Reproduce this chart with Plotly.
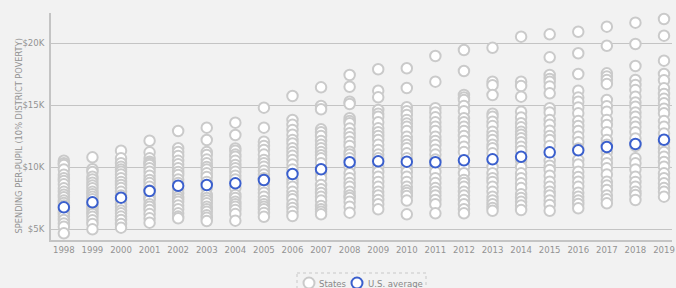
import plotly.graph_objects as go

years = list(range(1998, 2020))

us_average = [6750, 7150, 7525, 8065, 8490, 8550, 8685, 8950, 9435, 9815, 10380,
              10460, 10430, 10380, 10540, 10620, 10830, 11180, 11345, 11610, 11855, 12200]

states_1998 = [10510, 10300, 10160, 9800, 9380, 9100, 8870, 8600, 8280, 8000, 7760, 7560, 7300, 7100, 6900, 6600, 6400, 6200, 6000, 5730, 5450, 5190, 4650]
states_1999 = [10780, 9815, 9600, 9220, 9000, 8735, 8500, 8280, 8000, 7800, 7605, 7400, 7000, 6800, 6600, 6400, 6200, 5990, 5700, 5400, 4975]
states_2000 = [11315, 10700, 10300, 10025, 9800, 9620, 9400, 9090, 8800, 8550, 8300, 8000, 7700, 7300, 7000, 6800, 6500, 6265, 6000, 5730, 5400, 5105]
states_2001 = [12120, 11185, 10700, 10430, 10300, 10160, 9900, 9620, 9300, 8950, 8700, 8400, 8100, 7800, 7500, 7340, 7000, 6800, 6530, 6200, 5860, 5510]
states_2002 = [12900, 11510, 11200, 10890, 10500, 10215, 9900, 9600, 9355, 9000, 8700, 8200, 7880, 7600, 7400, 7200, 6900, 6600, 6265, 6000, 5860]
states_2003 = [13170, 12180, 11200, 10970, 10600, 10295, 10000, 9800, 9490, 9200, 8800, 8300, 7740, 7500, 7300, 7070, 6800, 6600, 6395, 6100, 5900, 5645]
states_2004 = [13575, 12580, 11500, 11315, 11000, 10830, 10500, 10160, 9900, 9620, 9300, 9000, 8300, 7740, 7500, 7200, 7000, 6800, 6530, 6200, 5670]
states_2005 = [14785, 13170, 12045, 11700, 11370, 11000, 10565, 10300, 10025, 9700, 9400, 9100, 8600, 8200, 7930, 7600, 7260, 7000, 6800, 6590, 6300, 5990]
states_2006 = [15725, 13790, 13400, 12985, 12600, 12180, 11900, 11510, 11200, 10900, 10565, 10200, 9800, 9000, 8700, 8415, 8000, 7660, 7400, 7000, 6700, 6400, 6050]
states_2007 = [16425, 14920, 14655, 13040, 12800, 12500, 12100, 11800, 11510, 11200, 10950, 10700, 10300, 9500, 9100, 8550, 8200, 7900, 7605, 7300, 6855, 6600, 6400, 6185]
states_2008 = [17420, 16475, 15265, 15080, 13930, 13700, 13525, 13100, 12720, 12400, 12045, 11700, 11235, 11000, 10700, 10000, 9500, 9090, 8700, 8400, 8010, 7700, 7500, 7200, 6800, 6315]
states_2009 = [17880, 16155, 15620, 14600, 14300, 14060, 13600, 13120, 12800, 12500, 12180, 11800, 11370, 11000, 10700, 10000, 9600, 9220, 8800, 8400, 8010, 7700, 7340, 7000, 6590]
states_2010 = [17960, 16370, 14815, 14500, 14195, 13800, 13500, 13250, 12900, 12445, 12100, 11800, 11510, 11100, 10700, 10000, 9600, 9220, 8800, 8415, 8100, 7900, 7660, 7300, 6185]
states_2011 = [18950, 16880, 14735, 14400, 14005, 13600, 13250, 12900, 12445, 12100, 11775, 11400, 11000, 10600, 10000, 9600, 9090, 8700, 8300, 8010, 7700, 7340, 7000, 6265]
states_2012 = [19435, 17740, 15805, 15600, 15400, 14920, 14500, 13930, 13600, 13250, 12900, 12500, 12100, 11640, 11200, 10000, 9500, 8950, 8700, 8415, 8000, 7700, 7340, 7000, 6600, 6265]
states_2013 = [19620, 16880, 16600, 15805, 14300, 14060, 13655, 13300, 12850, 12500, 12180, 11800, 11510, 11100, 10000, 9500, 9090, 8800, 8415, 8000, 7605, 7300, 7000, 6700, 6475]
states_2014 = [20510, 16880, 16535, 15670, 14460, 14000, 13525, 13200, 12850, 12600, 12315, 12000, 11640, 11300, 10500, 10000, 9490, 9100, 8685, 8300, 7800, 7500, 7200, 6900, 6530]
states_2015 = [20700, 18845, 17420, 17100, 16880, 16500, 15940, 14735, 14400, 13790, 13400, 12930, 12500, 12180, 11700, 10500, 10100, 9760, 9300, 8815, 8400, 8010, 7700, 7300, 6935, 6475]
states_2016 = [20910, 19170, 17500, 16155, 15600, 15265, 14800, 14330, 13700, 13305, 12900, 12445, 12000, 11500, 10565, 10200, 9620, 9200, 8815, 8400, 7930, 7600, 7300, 7015, 6670]
states_2017 = [21315, 19780, 17555, 17300, 17015, 16700, 15400, 14900, 14460, 13800, 13385, 12800, 12180, 11800, 11200, 10700, 10300, 9895, 9400, 8815, 8500, 8145, 7700, 7390, 7070]
states_2018 = [21640, 19920, 18145, 17015, 16615, 16200, 15670, 15200, 14860, 14400, 14060, 13600, 13250, 12800, 12300, 11700, 10700, 10295, 9800, 9220, 8800, 8415, 8000, 7740, 7340]
states_2019 = [21935, 20590, 18575, 17500, 17000, 16345, 15885, 15500, 15135, 14700, 14330, 13700, 13250, 12700, 12000, 11510, 11200, 10830, 10400, 10025, 9490, 9100, 8685, 8300, 8010, 7605]

state_values = [states_1998, states_1999, states_2000, states_2001, states_2002, states_2003,
                states_2004, states_2005, states_2006, states_2007, states_2008, states_2009,
                states_2010, states_2011, states_2012, states_2013, states_2014, states_2015,
                states_2016, states_2017, states_2018, states_2019]

y_tick_values = [5000, 10000, 15000, 20000]
y_tick_labels = ["$5K", "$10K", "$15K", "$20K"]
y_title = "SPENDING PER-PUPIL (10% DISTRICT POVERTY)"
legend_labels = ["States", "U.S. average"]

sx, sy = [], []
for yr, vals in zip(years, state_values):
    for v in vals:
        sx.append(yr)
        sy.append(v)

FONT = "DejaVu Sans Condensed, Roboto, sans-serif"
GRID = "#c4c4c4"
TXT = "#939393"
GRAY_MK = "#cacaca"
BLUE_MK = "#3a5fcd"
BG = "#f2f2f2"

fig = go.Figure()
fig.add_trace(go.Scatter(
    x=sx, y=sy, mode="markers", name=legend_labels[0],
    marker=dict(size=10.5, color="white", line=dict(color=GRAY_MK, width=2)),
    hoverinfo="skip", cliponaxis=False, showlegend=False))
fig.add_trace(go.Scatter(
    x=years, y=us_average, mode="markers", name=legend_labels[1],
    marker=dict(size=10.5, color="white", line=dict(color=BLUE_MK, width=2)),
    cliponaxis=False, showlegend=False))

PW, PH, ML, MB = 621, 227, 51, 48
def px_x(p):
    return (p - ML) / PW
def px_y(p):
    return (288 - MB - p) / PH

leg_y = px_y(283)
annotations = [
    dict(text=y_title, textangle=-90, xref="paper", yref="paper",
         x=px_x(18), y=px_y(136.5), xanchor="center", yanchor="middle",
         showarrow=False, font=dict(family=FONT, size=9.2, color=TXT)),
    dict(text=legend_labels[0], xref="paper", yref="paper", x=px_x(317), y=leg_y,
         xanchor="left", yanchor="middle", showarrow=False,
         font=dict(family=FONT, size=9.5, color="#888888")),
    dict(text=legend_labels[1], xref="paper", yref="paper", x=px_x(366), y=leg_y,
         xanchor="left", yanchor="middle", showarrow=False,
         font=dict(family=FONT, size=9.5, color="#888888")),
]

shapes = [
    dict(type="rect", xref="paper", yref="paper",
         x0=px_x(297), x1=px_x(426), y0=px_y(273), y1=px_y(296),
         line=dict(color="#c8c8c8", width=1, dash="dot"),
         fillcolor="rgba(0,0,0,0)", layer="below"),
]
for cx, col in [(309, GRAY_MK), (357, BLUE_MK)]:
    shapes.append(dict(type="circle", xref="paper", yref="paper",
                       xsizemode="pixel", ysizemode="pixel",
                       xanchor=px_x(cx), yanchor=leg_y,
                       x0=-5.5, x1=5.5, y0=-5.5, y1=5.5,
                       line=dict(color=col, width=2), fillcolor="white"))

fig.update_layout(
    width=676, height=288,
    margin=dict(l=ML, r=4, t=13, b=MB, autoexpand=False),
    paper_bgcolor=BG, plot_bgcolor=BG,
    font=dict(family=FONT, size=9.5, color=TXT),
    showlegend=False,
    xaxis=dict(range=[1997.55, 2019.28], tickmode="array", tickvals=years,
               ticktext=[str(y) for y in years], showgrid=False, zeroline=False,
               showline=True, linecolor=GRID, linewidth=1.5, ticks="",
               automargin=False,
               tickfont=dict(family=FONT, size=9.5, color=TXT)),
    yaxis=dict(range=[4113, 22419], tickmode="array", tickvals=y_tick_values,
               ticktext=y_tick_labels, showgrid=True, gridcolor=GRID, gridwidth=1,
               zeroline=False, showline=True, linecolor=GRID, linewidth=1.5,
               ticks="", ticklabelstandoff=3, automargin=False,
               tickfont=dict(family=FONT, size=9.5, color=TXT)),
    annotations=annotations,
    shapes=shapes,
)

fig.write_html("out.html", config={"displayModeBar": False},
               post_script="document.body.style.margin='0';document.body.style.padding='0';"
                           "document.body.style.background='%s';" % BG)
